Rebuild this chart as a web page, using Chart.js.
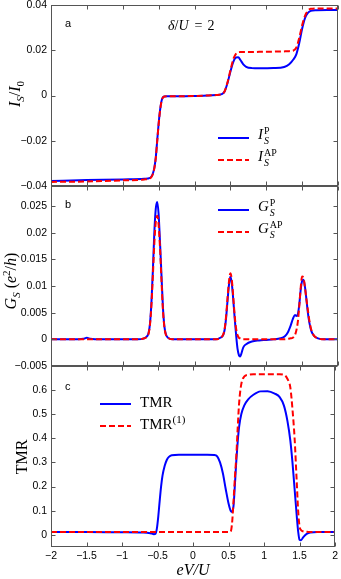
<!DOCTYPE html>
<html>
<head>
<meta charset="utf-8">
<title>Spin current, conductance and TMR</title>
<script src="https://cdn.jsdelivr.net/npm/chart.js@4.4.1/dist/chart.umd.min.js"></script>
<style>
  html, body { margin: 0; padding: 0; background: #fff; }
  body { position: relative; width: 341px; height: 579px; overflow: hidden; font-family: "Liberation Sans", Arial, sans-serif; }
  canvas { position: absolute; left: 0; }
  #cA { top: -20px; }
  #cB { top: 166px; }
  #cC { top: 346px; }
  .tag { position: absolute; font-size: 11px; line-height: 11px; color: #000; }
  .math { position: absolute; font-family: "Liberation Serif", "Times New Roman", serif; color: #000; white-space: nowrap; }
  .ytitle { font-size: 16px; line-height: 16px; transform: translate(-50%, -50%) rotate(-90deg); }
  sub, sup { font-size: 11px; line-height: 0; }
  .legend { position: absolute; font-family: "Liberation Serif", serif; font-size: 15px; color: #000; }
  .legend .row { display: flex; align-items: center; height: 22px; white-space: nowrap; }
  .legend svg { margin-right: 9px; }
  .legend .txt { position: relative; top: -2px; }
  .ss { display: inline-flex; flex-direction: column; font-size: 10px; line-height: 10px; vertical-align: middle; margin-left: 1px; }
  .eq { display: inline-block; margin: 0 5px 0 6px; }
</style>
</head>
<body>
<canvas id="cA" width="341" height="226"></canvas>
<canvas id="cB" width="341" height="220"></canvas>
<canvas id="cC" width="341" height="236"></canvas>

<div class="tag" style="left:65px;top:18px">a</div>
<div class="tag" style="left:65px;top:199px">b</div>
<div class="tag" style="left:65px;top:381px">c</div>
<div class="math" style="left:168px;top:19px;font-size:14px;line-height:14px"><i>δ</i>/<i>U</i><span class="eq">=</span>2</div>

<div class="math ytitle" style="left:15px;top:94px"><i>I</i><sub><i>S</i></sub>/<i>I</i><sub>0</sub></div>
<div class="math ytitle" style="left:11px;top:281px"><i>G</i><sub><i>S</i></sub> (<i>e</i><sup>2</sup>/<i>h</i>)</div>
<div class="math ytitle" style="left:22px;top:457px">TMR</div>

<div class="legend" id="legA" style="left:218px;top:127px"></div>
<div class="legend" id="legB" style="left:218px;top:199px"></div>
<div class="legend" id="legC" style="left:100px;top:393px"></div>

<script>
// panel a: spin current I_S / I_0
const xa = [-2, -1.5, -1, -0.7, -0.62, -0.6, -0.58, -0.56, -0.54, -0.52, -0.5, -0.48, -0.46, -0.44, -0.42,
  -0.38, -0.3, 0, 0.3, 0.38, 0.42, 0.46, 0.5, 0.54, 0.58, 0.61, 0.64, 0.68, 0.72, 0.8,
  0.9, 1.1, 1.25, 1.32, 1.38, 1.42, 1.46, 1.5, 1.54, 1.58, 1.62, 1.7, 1.85, 2];
const isP = [-0.0378, -0.0374, -0.0371, -0.0368, -0.0364, -0.0358, -0.0345, -0.032, -0.0275, -0.02, -0.0125, -0.0065, -0.0025, -0.0008, -0.0004,
  -0.0003, -0.0003, -0.0002, 0.0002, 0.0006, 0.0018, 0.0055, 0.0105, 0.0148, 0.0168, 0.0169, 0.0157, 0.0138, 0.0127, 0.0121,
  0.012, 0.0121, 0.0126, 0.0138, 0.016, 0.0183, 0.0232, 0.0295, 0.0342, 0.0365, 0.0374, 0.0377, 0.0378, 0.0378];
const isAP = [-0.0382, -0.038, -0.0375, -0.0371, -0.0366, -0.036, -0.0347, -0.0322, -0.0278, -0.0203, -0.0128, -0.0067, -0.0026, -0.0009, -0.0004,
  -0.0003, -0.0003, -0.0002, 0.0002, 0.0006, 0.0019, 0.0058, 0.011, 0.016, 0.0185, 0.0191, 0.0192, 0.0192, 0.0192, 0.0192,
  0.0193, 0.0194, 0.0195, 0.0196, 0.0199, 0.0212, 0.0255, 0.031, 0.0352, 0.0375, 0.0383, 0.0385, 0.0385, 0.0385];

// panel b: differential conductance G_S (e^2/h)
const xb = [-2, -1.7, -1.55, -1.5, -1.45, -1.3, -0.8, -0.7, -0.66, -0.64,
  -0.62, -0.6, -0.58, -0.56, -0.54, -0.52, -0.5, -0.48, -0.46, -0.44,
  -0.42, -0.4, -0.36, -0.3, 0, 0.3, 0.36, 0.4, 0.42, 0.44,
  0.46, 0.48, 0.5, 0.52, 0.54, 0.56, 0.58, 0.6, 0.62, 0.635,
  0.65, 0.68, 0.72, 0.8, 0.9, 1, 1.1, 1.2, 1.26, 1.3,
  1.34, 1.37, 1.4, 1.42, 1.44, 1.46, 1.48, 1.5, 1.52, 1.54,
  1.56, 1.58, 1.6, 1.63, 1.67, 1.72, 1.8, 2];
const gP = [0, 0, 0.0001, 0.0003, 0.0001, 0, 0, 0.0002, 0.0006, 0.0012,
  0.003, 0.007, 0.013, 0.02, 0.0245, 0.0258, 0.0235, 0.018, 0.012, 0.006,
  0.0025, 0.001, 0.0002, 0, 0, 0, 0.0003, 0.0008, 0.0018, 0.004,
  0.0072, 0.0102, 0.0118, 0.0105, 0.0075, 0.004, 0.0008, -0.0018, -0.003, -0.0032,
  -0.0028, -0.0015, -0.0009, -0.0004, -0.0002, -0.0001, 0, 0.0002, 0.0006, 0.0013,
  0.0026, 0.0038, 0.0046, 0.0044, 0.0047, 0.0065, 0.0093, 0.011, 0.0112, 0.0098,
  0.0075, 0.005, 0.0032, 0.0015, 0.0006, 0.0002, 0, 0];
const gAP = [0, 0, 0, 0, 0, 0, 0, 0.0002, 0.0005, 0.0011,
  0.0028, 0.0065, 0.012, 0.018, 0.022, 0.0232, 0.0215, 0.017, 0.011, 0.0055,
  0.0023, 0.0009, 0.0002, 0, 0, 0, 0.0003, 0.0009, 0.002, 0.0043,
  0.0077, 0.0108, 0.0124, 0.0112, 0.008, 0.0045, 0.002, 0.0008, 0.0003, 0.0002,
  0.0001, 0, 0, 0, 0, 0, 0, 0, 0, 0.0001,
  0.0002, 0.0003, 0.0008, 0.0017, 0.0033, 0.0062, 0.0097, 0.0118, 0.0115, 0.0097,
  0.0075, 0.0055, 0.0036, 0.0017, 0.0006, 0.0002, 0, 0];

// panel c: TMR
const xc = [-2, -1.5, -1, -0.7, -0.6, -0.55, -0.53, -0.51, -0.49, -0.47,
  -0.45, -0.43, -0.4, -0.37, -0.34, -0.3, -0.2, 0, 0.2, 0.3,
  0.34, 0.38, 0.42, 0.46, 0.5, 0.53, 0.55, 0.57, 0.59, 0.61,
  0.63, 0.65, 0.68, 0.72, 0.78, 0.85, 0.95, 1.05, 1.15, 1.22,
  1.28, 1.33, 1.37, 1.4, 1.43, 1.46, 1.48, 1.5, 1.52, 1.55,
  1.6, 1.65, 1.75, 2];
const tmr = [0.012, 0.012, 0.011, 0.01, 0.007, 0.003, 0.004, 0.025, 0.075, 0.14,
  0.2, 0.245, 0.285, 0.31, 0.323, 0.33, 0.332, 0.332, 0.332, 0.331,
  0.325, 0.3, 0.255, 0.19, 0.13, 0.1, 0.095, 0.12, 0.21, 0.31,
  0.39, 0.45, 0.5, 0.535, 0.562, 0.58, 0.594, 0.595, 0.585, 0.57,
  0.535, 0.47, 0.39, 0.3, 0.19, 0.08, 0.015, -0.02, -0.022, -0.01,
  0.004, 0.01, 0.012, 0.012];
const tmr1 = [0.012, 0.012, 0.012, 0.012, 0.012, 0.012, 0.012, 0.012, 0.012, 0.012,
  0.012, 0.012, 0.012, 0.012, 0.012, 0.012, 0.012, 0.012, 0.012, 0.012,
  0.012, 0.012, 0.012, 0.012, 0.012, 0.014, 0.05, 0.14, 0.24, 0.33,
  0.45, 0.55, 0.625, 0.655, 0.663, 0.665, 0.665, 0.665, 0.665, 0.665,
  0.663, 0.645, 0.61, 0.52, 0.4, 0.22, 0.1, 0.035, 0.02, 0.015,
  0.013, 0.012, 0.012, 0.012];

const BLUE = '#0000ff';
const RED = '#ff0000';

Chart.defaults.font.family = '"Liberation Sans", Arial, sans-serif';
Chart.defaults.font.size = 10.5;
Chart.defaults.color = '#000';

const fmt = v => String(+(+v).toFixed(4)).replace('-', '\u2212');
const toPts = (xs, ys) => xs.map((x, i) => ({ x: x, y: ys[i] }));

// MATLAB style box with inward ticks on all four sides
const boxFrame = {
  id: 'boxFrame',
  afterDraw(chart) {
    const { ctx, chartArea: a, scales } = chart;
    const L = Math.round(a.left) + 0.5, R = Math.round(a.right) - 0.5;
    const T = Math.round(a.top) + 0.5, B = Math.round(a.bottom) - 0.5;
    const len = 4;
    ctx.save();
    ctx.strokeStyle = '#555';
    ctx.lineWidth = 1;
    ctx.strokeRect(L, T, R - L, B - T);
    ctx.beginPath();
    scales.x.ticks.forEach(t => {
      const px = Math.round(scales.x.getPixelForValue(t.value)) + 0.5;
      ctx.moveTo(px, B); ctx.lineTo(px, B - len);
      ctx.moveTo(px, T); ctx.lineTo(px, T + len);
    });
    scales.y.ticks.forEach(t => {
      const py = Math.round(scales.y.getPixelForValue(t.value)) + 0.5;
      ctx.moveTo(L, py); ctx.lineTo(L + len, py);
      ctx.moveTo(R, py); ctx.lineTo(R - len, py);
    });
    ctx.stroke();
    ctx.restore();
  }
};

function series(label, xs, ys, color, dash, order) {
  return {
    label: label,
    data: toPts(xs, ys),
    borderColor: color,
    borderWidth: 2,
    borderDash: dash,
    pointRadius: 0,
    fill: false,
    cubicInterpolationMode: 'monotone',
    order: order
  };
}

function makePanel(id, p) {
  return new Chart(document.getElementById(id), {
    type: 'line',
    data: {
      datasets: [
        series(p.labels[0], p.x, p.y0, BLUE, [], 1),
        series(p.labels[1], p.x, p.y1, RED, [6, 3], 0)
      ]
    },
    options: {
      responsive: false,
      animation: false,
      devicePixelRatio: 1,
      layout: { padding: p.padding },
      plugins: { legend: { display: false }, tooltip: { enabled: false } },
      scales: {
        x: {
          type: 'linear',
          min: -2,
          max: 2,
          display: p.showX,
          grid: { display: false, drawTicks: false },
          border: { display: false },
          ticks: { stepSize: 0.5, autoSkip: false, maxRotation: 0, padding: 3, callback: fmt },
          title: {
            display: p.showX,
            text: 'eV/U',
            font: { family: '"Liberation Serif", serif', size: 16, style: 'italic' },
            padding: { top: 0, bottom: 2 }
          },
          afterFit: s => { s.height = p.showX ? 35 : 0; }
        },
        y: {
          min: p.yMin,
          max: p.yMax,
          grid: { display: false, drawTicks: false },
          border: { display: false },
          ticks: { stepSize: p.yStep, includeBounds: false, padding: 4, callback: fmt },
          afterFit: s => { s.width = 51; }
        }
      }
    },
    plugins: [boxFrame]
  });
}

function htmlLegend(chart, elId, texts) {
  const el = document.getElementById(elId);
  chart.data.datasets.forEach((ds, i) => {
    const row = document.createElement('div');
    row.className = 'row';
    const dash = ds.borderDash.length ? ds.borderDash.join(' ') : 'none';
    row.innerHTML = '<svg width="31" height="4"><line x1="0" y1="2" x2="31" y2="2" stroke="' + ds.borderColor +
      '" stroke-width="2" stroke-dasharray="' + dash + '"/></svg><span class="txt">' + texts[i] + '</span>';
    el.appendChild(row);
  });
}

const chartA = makePanel('cA', {
  labels: ['I_S^P', 'I_S^AP'], x: xa, y0: isP, y1: isAP,
  yMin: -0.04, yMax: 0.04, yStep: 0.02, showX: false,
  padding: { top: 25, bottom: 20, left: 0, right: 3 }
});
const chartB = makePanel('cB', {
  labels: ['G_S^P', 'G_S^AP'], x: xb, y0: gP, y1: gAP,
  yMin: -0.005, yMax: 0.0288, yStep: 0.005, showX: false,
  padding: { top: 20, bottom: 20, left: 0, right: 3 }
});
const chartC = makePanel('cC', {
  labels: ['TMR', 'TMR(1)'], x: xc, y0: tmr, y1: tmr1,
  yMin: -0.05, yMax: 0.699, yStep: 0.1, showX: true,
  padding: { top: 20, bottom: 0, left: 0, right: 3 }
});

htmlLegend(chartA, 'legA', [
  '<i>I</i><span class="ss"><span>P</span><span><i>S</i></span></span>',
  '<i>I</i><span class="ss"><span>AP</span><span><i>S</i></span></span>'
]);
htmlLegend(chartB, 'legB', [
  '<i>G</i><span class="ss"><span>P</span><span><i>S</i></span></span>',
  '<i>G</i><span class="ss"><span>AP</span><span><i>S</i></span></span>'
]);
htmlLegend(chartC, 'legC', ['TMR', 'TMR<sup>(1)</sup>']);
</script>
</body>
</html>
